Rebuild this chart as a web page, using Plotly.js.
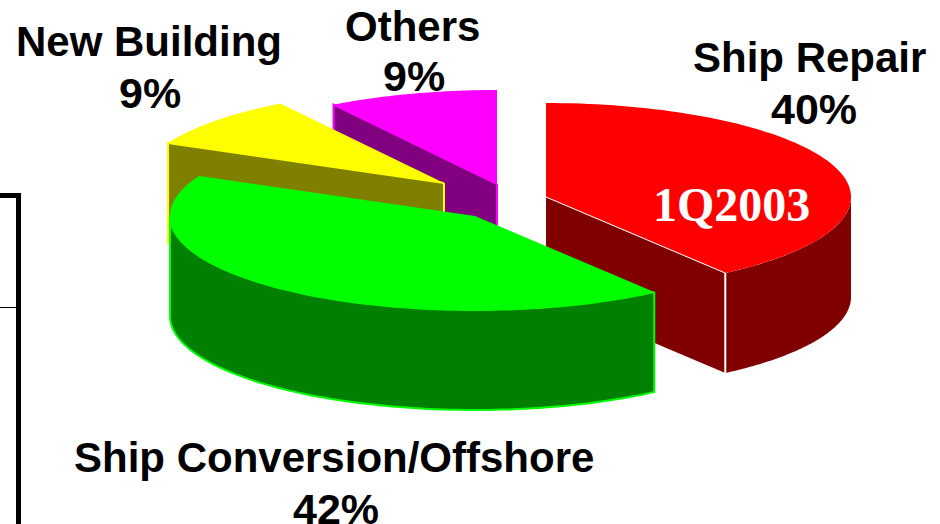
<!DOCTYPE html>
<html><head><meta charset="utf-8">
<script src="https://cdn.plot.ly/plotly-3.0.1.min.js"></script>
<style>html,body{margin:0;padding:0;background:#fff;overflow:hidden}#c{width:940px;height:524px}</style>
</head><body><div id="c"></div>
<script>
const categories = ['Ship Repair', 'Ship Conversion/Offshore', 'New Building', 'Others'];
const shares = [40, 42, 9, 9];
const annotationLabel = '1Q2003';

const topColors = ['#ff0000', '#00ff00', '#ffff00', '#ff00ff'];
const wallColors = ['#800000', '#008000', '#808000', '#800080'];
const centers = [[546, 197], [475, 216], [444, 183], [497, 184]];
const namePos = [[809.5, 57], [333.5, 457], [149, 41], [412, 26]];
const pctPos = [[814, 109], [336, 509], [149.5, 93], [414, 76]];
const RX = 305, RY = 94, DEPTH = 100;

const total = shares.reduce((a, b) => a + b, 0);
let cum = 0;
const wedges = shares.map((v, i) => {
  const a0 = cum / total * 2 * Math.PI; cum += v;
  return {a0, a1: cum / total * 2 * Math.PI, c: centers[i], top: topColors[i], wall: wallColors[i]};
});
const pt = (w, a, d = 0) => [w.c[0] + RX * Math.sin(a), w.c[1] - RY * Math.cos(a) + d];
function arc(w, a0, a1, d = 0) {
  const out = [], n = 90;
  for (let k = 0; k <= n; k++) out.push(pt(w, a0 + (a1 - a0) * k / n, d));
  return out;
}
function poly(points, fill, line, width) {
  return {type: 'scatter', mode: 'lines', x: points.map(p => p[0]), y: points.map(p => p[1]),
    fill: 'toself', fillcolor: fill, line: {color: line || fill, width: line ? width : 0, simplify: false},
    hoverinfo: 'skip', showlegend: false};
}
function seg(p, q, color, width) {
  return {type: 'scatter', mode: 'lines', x: [p[0], q[0]], y: [p[1], q[1]],
    line: {color, width}, hoverinfo: 'skip', showlegend: false};
}
const apex = w => w.c;
const apexLow = w => [w.c[0], w.c[1] + DEPTH];
const topFace = w => [apex(w), ...arc(w, w.a0, w.a1), apex(w)];
const radialWall = (w, a) => [apex(w), pt(w, a), pt(w, a, DEPTH), apexLow(w), apex(w)];
const outerWall = (w, a0, a1) => [...arc(w, a0, a1), ...arc(w, a1, a0, DEPTH), pt(w, a0)];

const [rep, conv, nb, oth] = wedges;
const traces = [
  poly(radialWall(oth, oth.a0), oth.wall, oth.top, 2),
  poly(topFace(oth), oth.top),
  poly(radialWall(nb, nb.a0), nb.wall, nb.top, 2),
  poly(topFace(nb), nb.top),
  poly(radialWall(rep, rep.a1), rep.wall),
  poly(outerWall(rep, Math.PI / 2, rep.a1), rep.wall),
  poly(topFace(rep), rep.top),
  seg(apex(rep), pt(rep, rep.a1), '#ffffff', 1),
  seg(pt(rep, rep.a1), pt(rep, rep.a1, DEPTH), '#ffffff', 2),
  poly(outerWall(conv, conv.a0, 1.5 * Math.PI), conv.wall, conv.top, 2),
  poly(topFace(conv), conv.top)
];

const sans = '"Liberation Sans", Arial, sans-serif';
const annotations = [];
categories.forEach((name, i) => {
  annotations.push({x: namePos[i][0], y: namePos[i][1], xref: 'x', yref: 'y', showarrow: false,
    text: '<b>' + name + '</b>', xanchor: 'center', yanchor: 'middle',
    font: {family: sans, size: 42, color: '#000'}});
  annotations.push({x: pctPos[i][0], y: pctPos[i][1], xref: 'x', yref: 'y', showarrow: false,
    text: '<b>' + shares[i] + '%</b>', xanchor: 'center', yanchor: 'middle',
    font: {family: sans, size: 43, color: '#000'}});
});
annotations.push({x: 731, y: 204.5, xref: 'x', yref: 'y', showarrow: false, text: '<b>' + annotationLabel + '</b>',
  xanchor: 'center', yanchor: 'middle',
  font: {family: '"Liberation Serif", "Times New Roman", serif', size: 48, color: '#fff'}});

const layout = {
  width: 940, height: 524, margin: {l: 0, r: 0, t: 0, b: 0},
  paper_bgcolor: '#fff', plot_bgcolor: '#fff', showlegend: false,
  xaxis: {range: [0, 940], visible: false, fixedrange: true},
  yaxis: {range: [524, 0], visible: false, fixedrange: true},
  annotations,
  shapes: [
    {type: 'line', x0: 0, x1: 21, y0: 195.5, y1: 195.5, line: {color: '#000', width: 5}},
    {type: 'line', x0: 18.5, x1: 18.5, y0: 193, y1: 524, line: {color: '#000', width: 5}},
    {type: 'line', x0: 0, x1: 16, y0: 307.5, y1: 307.5, line: {color: '#000', width: 1}}
  ]
};
Plotly.newPlot('c', traces, layout, {displayModeBar: false, staticPlot: true});
</script></body></html>
